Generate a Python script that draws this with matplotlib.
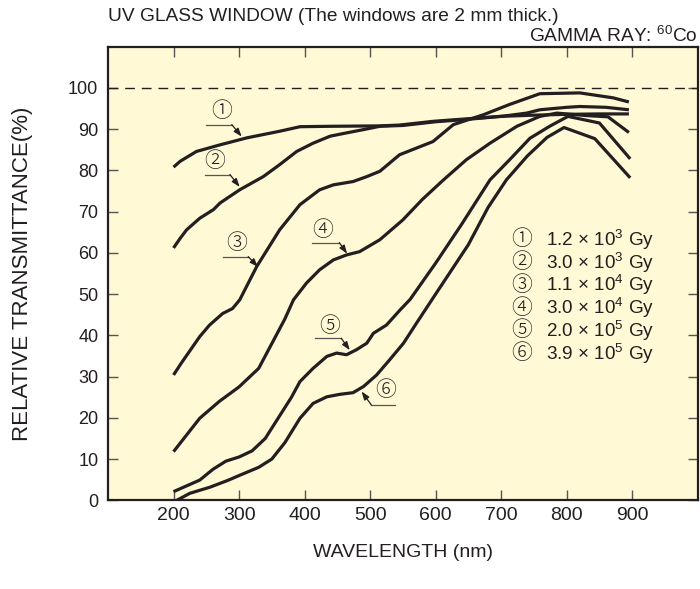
import numpy as np
import matplotlib.pyplot as plt

plt.rcParams['font.family'] = ['Liberation Sans', 'Noto Sans CJK JP', 'DejaVu Sans']
plt.rcParams['mathtext.fontset'] = 'custom'
plt.rcParams['mathtext.rm'] = 'Liberation Sans'

# ---- data ----
wl1 = [200, 210, 235, 271, 312, 362, 393, 440, 515, 545, 596, 647, 698, 750, 800, 850, 895]
t1 = [80.8, 82.2, 84.6, 86.2, 87.9, 89.5, 90.6, 90.7, 90.8, 91.0, 91.9, 92.5, 93.1, 93.4, 93.6, 93.7, 93.7]

wl2 = [200, 210, 220, 240, 261, 271, 301, 337, 362, 388, 413, 439, 464, 490, 515, 550, 600, 650,
       700, 739, 759, 800, 820, 860, 895]
t2 = [61.2, 63.5, 65.6, 68.4, 70.5, 72.1, 75.3, 78.5, 81.4, 84.6, 86.6, 88.3, 89.1, 89.9, 90.7,
      90.9, 91.8, 92.4, 93.1, 93.9, 94.7, 95.3, 95.5, 95.3, 94.7]

wl3 = [200, 212, 240, 255, 275, 290, 301, 327, 362, 393, 423, 444, 474, 495, 515, 545, 596, 627,
       673, 713, 759, 820, 871, 895]
t3 = [30.4, 33.3, 39.7, 42.5, 45.3, 46.5, 48.6, 56.7, 65.6, 71.7, 75.3, 76.5, 77.3, 78.5, 79.8,
      83.8, 87.0, 91.1, 93.5, 96.0, 98.6, 98.8, 97.6, 96.6]

wl4 = [200, 240, 270, 300, 330, 350, 370, 383, 403, 423, 444, 464, 484, 515, 550, 580, 612, 647,
       683, 724, 759, 785, 830, 863, 895]
t4 = [11.8, 19.9, 24.0, 27.5, 32.0, 38.0, 44.0, 48.6, 52.7, 55.9, 58.3, 59.5, 60.3, 63.2, 68.0,
      73.0, 77.7, 82.6, 86.6, 90.7, 93.1, 93.9, 93.3, 93.0, 89.2]

wl5 = [200, 240, 260, 280, 300, 320, 340, 360, 380, 393, 413, 434, 449, 464, 479, 495, 505, 525,
       546, 561, 600, 640, 683, 713, 744, 774, 802, 850, 897]
t5 = [2.1, 4.9, 7.5, 9.5, 10.5, 12.0, 15.0, 20.0, 25.0, 28.8, 32.0, 34.9, 35.7, 35.3, 36.5, 38.1,
      40.5, 42.5, 46.2, 48.7, 57.5, 67.0, 77.7, 82.6, 87.8, 90.7, 93.1, 91.5, 82.8]

wl6 = [205, 225, 256, 284, 300, 330, 350, 370, 393, 413, 434, 454, 474, 490, 510, 530, 551, 571,
       600, 650, 680, 708, 740, 770, 796, 843, 897]
t6 = [0.0, 1.7, 3.2, 4.9, 6.0, 8.0, 10.0, 14.0, 19.9, 23.5, 25.1, 25.7, 26.1, 27.6, 30.4, 34.1,
      38.1, 43.0, 50.0, 62.0, 71.0, 77.7, 83.5, 88.0, 90.4, 87.7, 78.2]

curves = [(wl1, t1), (wl2, t2), (wl3, t3), (wl4, t4), (wl5, t5), (wl6, t6)]
marks = ['①', '②', '③', '④', '⑤', '⑥']
doses = ['1.2 × 10$^3$ Gy', '3.0 × 10$^3$ Gy', '1.1 × 10$^4$ Gy',
         '3.0 × 10$^4$ Gy', '2.0 × 10$^5$ Gy', '3.9 × 10$^5$ Gy']
xticks = [200, 300, 400, 500, 600, 700, 800, 900]
yticks = [0, 10, 20, 30, 40, 50, 60, 70, 80, 90, 100]

# label placement: (mark x, mark y, leader x0, leader x1, leader y, arrow tip x, tip y)
callouts = [
    (274, 94.4, 250, 289, 91.1, 304, 88.2),
    (263, 82.2, 248, 286, 79.0, 301, 76.0),
    (296, 62.4, 276, 314, 59.1, 329, 56.6),
    (428, 65.6, 412, 453, 62.5, 465, 59.8),
    (439, 42.3, 416, 456, 39.3, 469, 36.4),
    (523, 26.6, 502, 538, 23.1, 487, 26.4),
]

ink = '#231f20'

fig = plt.figure(figsize=(7.0, 5.89), dpi=100)
ax = fig.add_axes([0.1543, 0.1506, 0.8424, 0.7701])
ax.set_facecolor('#fff9d6')

for wl, t in curves:
    ax.plot(wl, t, color=ink, lw=2.3, solid_capstyle='butt', solid_joinstyle='round')

ax.axhline(100, color=ink, lw=1.0, dashes=(7, 5))

ax.set_xlim(100, 1000)
ax.set_ylim(0, 110)
ax.set_xticks(xticks)
ax.set_yticks(yticks)
ax.tick_params(direction='in', length=7, width=1.0, color='#555555',
               top=True, right=True, labelcolor=ink)
ax.tick_params(axis='y', labelsize=13, pad=7)
ax.tick_params(axis='x', labelsize=14, pad=4.5)
for s in ax.spines.values():
    s.set_linewidth(1.6)
    s.set_color(ink)

for (mx, my, lx0, lx1, ly, tx, ty), m in zip(callouts, marks):
    ax.text(mx, my, m, ha='center', va='center', fontsize=15, color=ink,
            fontweight='light')
    ax.plot([lx0, lx1], [ly, ly], color='#555555', lw=0.9)
    x_start = lx0 if tx < lx0 else lx1
    ax.annotate('', xy=(tx, ty), xytext=(x_start, ly),
                arrowprops=dict(arrowstyle='-|>,head_length=0.5,head_width=0.18',
                                color=ink, lw=0.9, shrinkA=0, shrinkB=0))

for i, (m, d) in enumerate(zip(marks, doses)):
    yy = 0.5754 - i * 0.0503
    ax.text(0.7014, yy, m, transform=ax.transAxes, ha='center', va='center',
            fontsize=15, color=ink, fontweight='light')
    ax.text(0.7435, yy, d, transform=ax.transAxes, ha='left', va='center',
            fontsize=13.6, color=ink)

ax.set_xlabel('WAVELENGTH (nm)', fontsize=14, color=ink, labelpad=15)
ax.set_ylabel('RELATIVE TRANSMITTANCE(%)', fontsize=16, color=ink, labelpad=25)

fig.text(0.154, 0.972, 'UV GLASS WINDOW (The windows are 2 mm thick.)',
         ha='left', va='center', fontsize=13.8, color=ink)
fig.text(0.997, 0.940, 'GAMMA RAY: $^{60}$Co', ha='right', va='center',
         fontsize=13.8, color=ink)

fig.savefig('out.png', dpi=100)
